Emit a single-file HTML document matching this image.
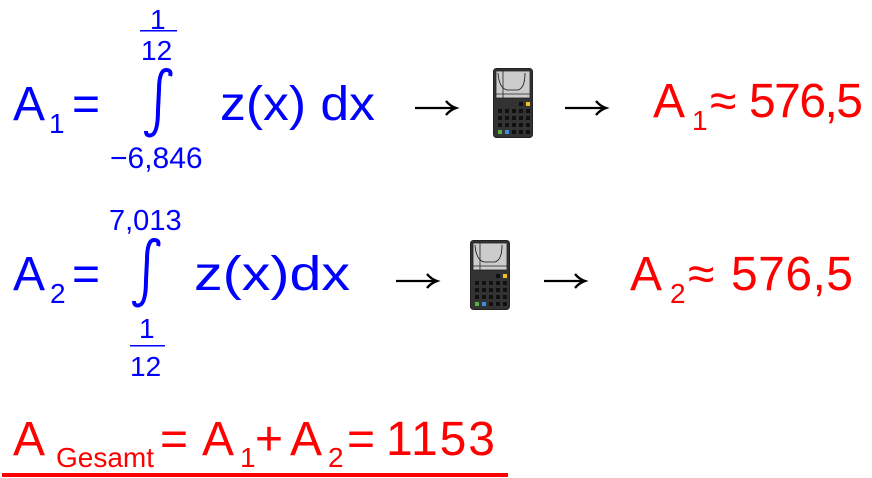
<!DOCTYPE html>
<html><head><meta charset="utf-8"><style>
html,body{margin:0;padding:0;background:#fff;}
svg{display:block;}
text{font-family:"Liberation Sans",sans-serif;}
</style></head><body>
<svg width="872" height="478" viewBox="0 0 872 478" xmlns="http://www.w3.org/2000/svg">
<defs>
<g id="calc">
<rect x="0.5" y="0.5" width="39" height="69" rx="3" fill="#333" stroke="#222"/>
<rect x="3" y="3" width="34" height="27" fill="#ccc" stroke="#222" stroke-width="0.8"/>
<line x1="3" y1="26" x2="37" y2="26" stroke="#222" stroke-width="0.8"/>
<line x1="10" y1="3" x2="10" y2="30" stroke="#222" stroke-width="0.8"/>
<path d="M5 5 Q6 20 14 22 L25 22 Q32 20 32 5" fill="none" stroke="#111" stroke-width="0.8"/>
<g fill="#111">
<rect x="26" y="34" width="4" height="4"/>
<rect x="5" y="41" width="4" height="4"/><rect x="12" y="41" width="4" height="4"/><rect x="19" y="41" width="4" height="4"/><rect x="26" y="41" width="4" height="4"/><rect x="33" y="41" width="4" height="4"/>
<rect x="5" y="48" width="4" height="4"/><rect x="12" y="48" width="4" height="4"/><rect x="19" y="48" width="4" height="4"/><rect x="26" y="48" width="4" height="4"/><rect x="33" y="48" width="4" height="4"/>
<rect x="5" y="55" width="4" height="4"/><rect x="12" y="55" width="4" height="4"/><rect x="19" y="55" width="4" height="4"/><rect x="26" y="55" width="4" height="4"/><rect x="33" y="55" width="4" height="4"/>
<rect x="19" y="62" width="4" height="4"/><rect x="26" y="62" width="4" height="4"/><rect x="33" y="62" width="4" height="4"/>
</g>
<rect x="33" y="34" width="4" height="4" fill="#f0c020"/>
<rect x="5" y="62" width="4" height="4" fill="#5cb040"/>
<rect x="12" y="62" width="4" height="4" fill="#3a8ee0"/>
</g>
<path id="arr" d="M0 0 H40 M31 -7 Q35 -2 41 0 Q35 2 31 7" fill="none" stroke="#000" stroke-width="2.3"/>
</defs>

<!-- Row 1 -->
<g fill="#0000ff">
<text x="13" y="120" font-size="48">A</text>
<text x="49" y="133" font-size="28">1</text>
<text x="72" y="120" font-size="48">=</text>
<text x="150" y="29" font-size="28">1</text>
<rect x="140" y="30" width="37" height="1.5"/>
<text x="141" y="60" font-size="28">12</text>
<text x="110" y="168" font-size="30">−6,846</text>
<text x="220" y="120" font-size="48" textLength="155" lengthAdjust="spacingAndGlyphs">z(x) dx</text>
</g>
<path d="M152 135 Q146 137 146 131 M152 135 Q158 132 158 110 L159 90 Q159 70 166 70 Q172 70 170 76" fill="none" stroke="#0000ff" stroke-width="4"/>
<use href="#arr" x="415" y="108"/>
<use href="#calc" x="493" y="68"/>
<use href="#arr" x="565" y="108"/>
<g fill="#ff0000">
<text x="653" y="117" font-size="48">A</text>
<text x="692" y="130" font-size="28">1</text>
<text x="710" y="117" font-size="48">≈</text>
<text x="749" y="117" font-size="48" textLength="114">576,5</text>
</g>

<!-- Row 2 -->
<g fill="#0000ff">
<text x="13" y="290" font-size="48">A</text>
<text x="50" y="303" font-size="28">2</text>
<text x="72" y="290" font-size="48">=</text>
<text x="109" y="230" font-size="29">7,013</text>
<text x="139" y="338" font-size="28">1</text>
<rect x="130" y="345" width="35" height="1.5"/>
<text x="130" y="376" font-size="28">12</text>
<text x="194" y="290" font-size="48" textLength="156" lengthAdjust="spacingAndGlyphs">z(x)dx</text>
</g>
<path d="M140 305 Q134 307 134 301 M140 305 Q146 302 146 280 L147 260 Q147 240 154 240 Q160 240 158 246" fill="none" stroke="#0000ff" stroke-width="4"/>
<use href="#arr" x="396" y="281"/>
<use href="#calc" x="470" y="240"/>
<use href="#arr" x="544" y="281"/>
<g fill="#ff0000">
<text x="630" y="290" font-size="48">A</text>
<text x="670" y="303" font-size="28">2</text>
<text x="688" y="290" font-size="48">≈</text>
<text x="731" y="290" font-size="48" textLength="122">576,5</text>
</g>

<!-- Row 3 -->
<g fill="#ff0000">
<text x="13" y="455" font-size="48">A</text>
<text x="56" y="467" font-size="28">Gesamt</text>
<text x="160" y="455" font-size="48">=</text>
<text x="202" y="455" font-size="48">A</text>
<text x="240" y="467" font-size="28">1</text>
<text x="255" y="455" font-size="48">+</text>
<text x="290" y="455" font-size="48">A</text>
<text x="328" y="467" font-size="28">2</text>
<text x="347" y="455" font-size="48">=</text>
<text x="386" y="455" font-size="48" textLength="109">1153</text>
<rect x="2" y="473" width="506" height="4"/>
</g>
</svg>
</body></html>
